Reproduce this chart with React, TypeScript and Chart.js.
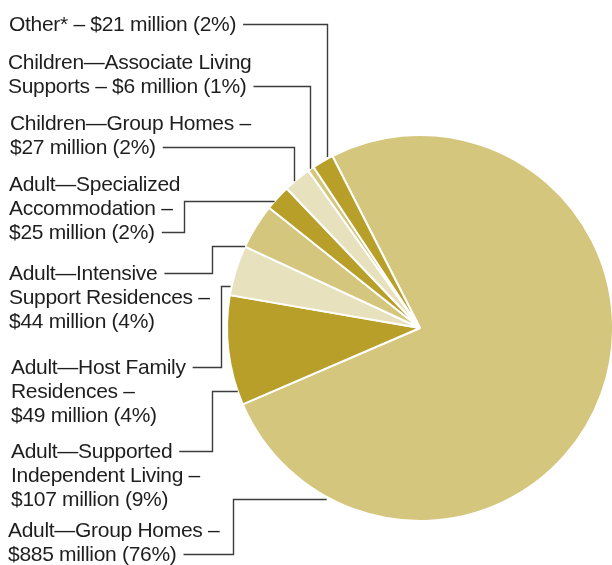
import React, { useEffect, useRef } from "react";
import { Chart, registerables } from "chart.js";

Chart.register(...registerables);

// ---- data (clockwise order starting after the top-left slices) ----
const categories = [
  "Adult—Group Homes",
  "Adult—Supported Independent Living",
  "Adult—Host Family Residences",
  "Adult—Intensive Support Residences",
  "Adult—Specialized Accommodation",
  "Children—Group Homes",
  "Children—Associate Living Supports",
  "Other*",
];
const valuesMillions = [885, 107, 49, 44, 25, 27, 6, 21];
const percentages = [76, 9, 4, 4, 2, 2, 1, 2];

const amount = (i: number) => `$${valuesMillions[i]} million (${percentages[i]}%)`;

const labelLines: string[][] = [
  ["Adult—Group Homes –", amount(0)],
  ["Adult—Supported", "Independent Living –", amount(1)],
  ["Adult—Host Family", "Residences –", amount(2)],
  ["Adult—Intensive", "Support Residences –", amount(3)],
  ["Adult—Specialized", "Accommodation –", amount(4)],
  ["Children—Group Homes –", amount(5)],
  ["Children—Associate Living", `Supports – ${amount(6)}`],
  [`Other* – ${amount(7)}`],
];

// ---- styles / layout ----
const TAN = "#D4C67D";
const DARK = "#B89F2A";
const CREAM = "#E8E1BD";
const sliceColors = [TAN, DARK, CREAM, TAN, DARK, CREAM, TAN, DARK];

type Layout = {
  x: number;
  y: number; // first baseline
  attach: number; // index of line the leader starts from
  elbowX: number;
  endY?: number; // for horizontal final segment
  vertical?: boolean; // leader ends going down to the pie
  gap: number;
};

const labelLayout: Layout[] = [
  { x: 8, y: 537, attach: 1, elbowX: 233, endY: 499, gap: 7 },
  { x: 11, y: 458, attach: 0, elbowX: 212, endY: 391, gap: 1 },
  { x: 11, y: 374, attach: 0, elbowX: 221, endY: 286, gap: 2 },
  { x: 9, y: 280, attach: 0, elbowX: 212, endY: 246, gap: 1 },
  { x: 9, y: 191, attach: 2, elbowX: 184, endY: 201, gap: 1 },
  { x: 10, y: 130, attach: 1, elbowX: 294, vertical: true, gap: 2 },
  { x: 8, y: 69, attach: 1, elbowX: 310, vertical: true, gap: 2 },
  { x: 9, y: 31, attach: 0, elbowX: 327, vertical: true, gap: 3 },
];

const LINE_H = 24;
const FONT = '21px "Liberation Sans", Arial, sans-serif';

const leaderPlugin = {
  id: "leaderLabels",
  afterDraw(chart: any) {
    const ctx: CanvasRenderingContext2D = chart.ctx;
    const meta = chart.getDatasetMeta(0);
    const first = meta.data[0];
    if (!first) return;
    const { x: cx, y: cy, outerRadius } = first.getProps(["x", "y", "outerRadius"], true);
    const r = outerRadius - 1;
    ctx.save();
    ctx.font = FONT;
    try {
      (ctx as any).letterSpacing = "-0.3px";
    } catch (e) {}
    ctx.fillStyle = "#1e1e1e";
    ctx.textBaseline = "alphabetic";
    ctx.textAlign = "left";
    labelLines.forEach((lines, i) => {
      const L = labelLayout[i];
      lines.forEach((t, k) => ctx.fillText(t, L.x, L.y + k * LINE_H));
      const w = ctx.measureText(lines[L.attach]).width;
      const lineY = Math.round(L.y + L.attach * LINE_H - 7) + 0.5;
      const startX = L.x + w + 7;
      ctx.beginPath();
      ctx.strokeStyle = "#3c3c3c";
      ctx.lineWidth = 1.4;
      ctx.moveTo(startX, lineY);
      ctx.lineTo(L.elbowX + 0.5, lineY);
      if (L.vertical) {
        const dx = L.elbowX - cx;
        const ey = cy - Math.sqrt(Math.max(r * r - dx * dx, 0)) - L.gap;
        ctx.lineTo(L.elbowX + 0.5, ey);
      } else {
        const ey = (L.endY as number) + 0.5;
        const dy = ey - cy;
        const ex = cx - Math.sqrt(Math.max(r * r - dy * dy, 0)) - L.gap;
        ctx.lineTo(L.elbowX + 0.5, ey);
        ctx.lineTo(ex, ey);
      }
      ctx.stroke();
    });
    ctx.restore();
  },
};

export default function App() {
  const ref = useRef<HTMLCanvasElement>(null);
  useEffect(() => {
    document.body.style.margin = "0";
    const chart = new Chart(ref.current as HTMLCanvasElement, {
      type: "pie",
      data: {
        labels: categories,
        datasets: [
          {
            data: valuesMillions,
            backgroundColor: sliceColors,
            borderColor: "#ffffff",
            borderWidth: 2,
            radius: 193,
          } as any,
        ],
      },
      options: {
        responsive: false,
        animation: false,
        rotation: -27,
        radius: 193,
        events: [],
        layout: { padding: { left: 228, right: 0, top: 91, bottom: 0 } },
        plugins: { legend: { display: false }, tooltip: { enabled: false } },
      } as any,
      plugins: [leaderPlugin],
    });
    return () => chart.destroy();
  }, []);
  return (
    <div style={{ position: "fixed", left: 0, top: 0, width: 612, height: 565, background: "#fff" }}>
      <canvas ref={ref} width={612} height={565} style={{ display: "block", width: 612, height: 565 }} />
    </div>
  );
}
